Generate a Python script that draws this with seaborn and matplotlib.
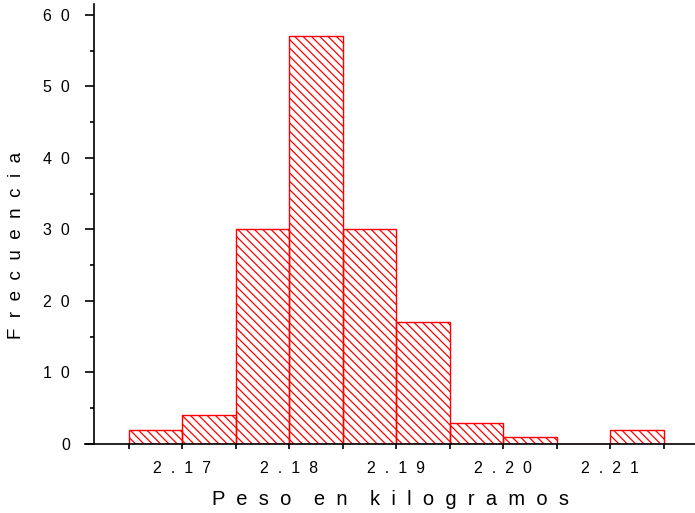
import numpy as np
import pandas as pd
import matplotlib.pyplot as plt
import seaborn as sns

# histogram bins (kg) and counts
bin_edges = [2.165, 2.170, 2.175, 2.180, 2.185, 2.190, 2.195, 2.200, 2.205, 2.210, 2.215]
counts = [2, 4, 30, 57, 30, 17, 3, 1, 0, 2]
x_labels = [2.17, 2.18, 2.19, 2.20, 2.21]
y_major = [0, 10, 20, 30, 40, 50, 60]


def spaced(s, gap="  "):
    return gap.join(s)


sns.set_style("ticks", {"text.color": "black", "axes.labelcolor": "black",
                        "xtick.color": "black", "ytick.color": "black",
                        "axes.edgecolor": "black"})
plt.rcParams['font.family'] = ['Liberation Sans', 'DejaVu Sans']
plt.rcParams['hatch.linewidth'] = 0.9

centers = [(a + b) / 2 for a, b in zip(bin_edges[:-1], bin_edges[1:])]
df = pd.DataFrame({"peso": centers, "n": counts})

fig = plt.figure(figsize=(6.95, 5.13), dpi=100)
ax = fig.add_axes([85 / 695, 69 / 513, 610 / 695, 440 / 513])

sns.histplot(data=df, x="peso", weights="n", bins=bin_edges, ax=ax,
             facecolor="none", edgecolor="red", hatch="\\\\\\\\",
             linewidth=1.0, alpha=1)

ax.set_xlim(2.16093, 2.21794)
ax.set_ylim(0, 61.5)

sns.despine(ax=ax)
ax.spines['left'].set_position(('data', 2.16178))
ax.spines['left'].set_linewidth(1.2)
ax.spines['bottom'].set_linewidth(1.2)

ax.set_xticks(bin_edges)
ax.set_xticklabels([spaced(f"{v:.2f}") if any(abs(v - l) < 1e-9 for l in x_labels) else ""
                    for v in bin_edges], fontsize=11.5)
ax.set_yticks(y_major)
ax.set_yticklabels([spaced(str(v)) for v in y_major], fontsize=11.5)
ax.set_yticks(np.arange(5, 60, 10), minor=True)
ax.tick_params(axis='x', direction='out', length=3.5, width=1.2, pad=9)
ax.tick_params(axis='y', which='major', direction='out', length=6.5, width=1.2, pad=11)
ax.tick_params(axis='y', which='minor', direction='out', length=3, width=1.2)

ax.set_xlabel(spaced("Peso") + "    " + spaced("en") + "    " + spaced("kilogramos"),
              fontsize=14.5, labelpad=10)
ax.set_ylabel(spaced("Frecuencia"), fontsize=13.5)
ax.yaxis.set_label_coords(-0.098, 0.452)

fig.savefig("out.png", dpi=100)
